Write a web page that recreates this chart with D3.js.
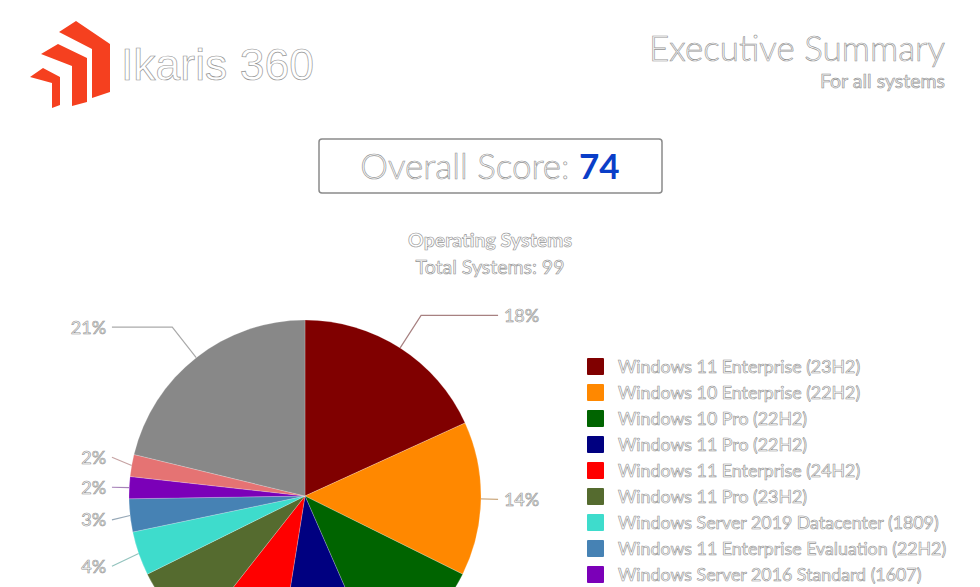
<!DOCTYPE html>
<html>
<head>
<meta charset="utf-8">
<script src="https://cdn.jsdelivr.net/npm/d3@7/dist/d3.min.js"></script>
<style>
  html, body { margin: 0; padding: 0; background: #fff; }
  svg { display: block; }
  .ol { fill: #fff; stroke: #949494; stroke-width: 0.65; }
</style>
</head>
<body>
<svg id="chart" width="980" height="587"></svg>
<script>
// ---- data ----
const categories = [
  "Windows 11 Enterprise (23H2)",
  "Windows 10 Enterprise (22H2)",
  "Windows 10 Pro (22H2)",
  "Windows 11 Pro (22H2)",
  "Windows 11 Enterprise (24H2)",
  "Windows 11 Pro (23H2)",
  "Windows Server 2019 Datacenter (1809)",
  "Windows 11 Enterprise Evaluation (22H2)",
  "Windows Server 2016 Standard (1607)",
  "Windows Server 2022 Standard (21H2)",
  "Other"
];
const counts = [18, 14, 11, 9, 8, 7, 4, 3, 2, 2, 21];
const colors = ["#800000", "#ff8800", "#006400", "#000080", "#ff0000", "#556b2f",
                "#3edccc", "#4682b4", "#7b00b8", "#e57373", "#888888"];
const titleText = "Ikaris 360";
const headerTitle = "Executive Summary";
const headerSub = "For all systems";
const scoreLabel = "Overall Score: ";
const scoreValue = 74;
const chartTitle = "Operating Systems";

const svg = d3.select("#chart");

// ---- logo ----
const logo = svg.append("g").attr("fill", "#f5401f");
const shapes = [
  [[59,32],[76,21],[110,44],[110,92],[92,98],[92,49]],
  [[41,54],[58,44],[87,58],[87,102],[72,106],[72,66]],
  [[30,77],[43,68],[60,77],[60,105],[52,108],[52,83]]
];
shapes.forEach(s => logo.append("path").attr("d", d3.line()(s) + "Z"));

svg.append("text").attr("class", "ol")
  .attr("x", 121).attr("y", 80)
  .attr("font-family", "Liberation Sans, Arial, sans-serif")
  .attr("font-size", 44.5).attr("stroke", "#7a7a7a").attr("stroke-width", 1)
  .text(titleText);

svg.append("text").attr("class", "ol")
  .attr("x", 945).attr("y", 61).attr("text-anchor", "end")
  .attr("font-family", "Lato, sans-serif").attr("font-weight", 300)
  .attr("font-size", 35).attr("stroke", "#8a8a8a").attr("stroke-width", 0.85)
  .text(headerTitle);

svg.append("text")
  .attr("x", 945).attr("y", 88).attr("text-anchor", "end")
  .attr("font-family", "Lato, sans-serif")
  .attr("font-size", 19.5).attr("fill", "#ececec").attr("stroke", "#909090").attr("stroke-width", 0.6)
  .text(headerSub);

// ---- score box ----
svg.append("rect").attr("x", 319).attr("y", 139).attr("width", 343).attr("height", 54)
  .attr("rx", 3).attr("fill", "#fff").attr("stroke", "#8a8a8a").attr("stroke-width", 1.5);
const st = svg.append("text").attr("x", 490).attr("y", 179).attr("text-anchor", "middle")
  .attr("font-family", "Lato, sans-serif").attr("font-size", 35);
st.append("tspan").attr("class", "ol").attr("stroke", "#7a7a7a").attr("stroke-width", 0.85)
  .attr("font-weight", 300).text(scoreLabel);
st.append("tspan").attr("fill", "#0a3ec8").attr("font-weight", 700).text(scoreValue);

// ---- chart title ----
const total = d3.sum(counts);
svg.append("text").attr("class", "ol")
  .attr("x", 490).attr("y", 247).attr("text-anchor", "middle")
  .attr("font-family", "Lato, sans-serif").attr("font-weight", 700).attr("font-size", 19.5)
  .attr("stroke", "#808080")
  .text(chartTitle);
svg.append("text").attr("class", "ol")
  .attr("x", 490).attr("y", 274).attr("text-anchor", "middle")
  .attr("font-family", "Lato, sans-serif").attr("font-size", 19.5)
  .text("Total Systems: " + total);

// ---- pie ----
const cx = 305, cy = 496, r = 176;
const data = categories.map((c, i) => ({ name: c, value: counts[i], color: colors[i] }));
const pie = d3.pie().value(d => d.value).sort(null);
const arcs = pie(data);
const arc = d3.arc().innerRadius(0).outerRadius(r);
const g = svg.append("g").attr("transform", `translate(${cx},${cy})`);
g.selectAll("path.slice").data(arcs).join("path")
  .attr("class", "slice")
  .attr("d", arc)
  .attr("fill", d => d.data.color)
  .attr("stroke", "#ffffff").attr("stroke-opacity", 0.35).attr("stroke-width", 0.6);

// labels
const rl = r * 1.22, textOff = r * 1.13, lineOff = r * 1.097, minGap = 30;
const labels = arcs.map(a => {
  const mid = (a.startAngle + a.endAngle) / 2;
  return {
    a, mid,
    side: Math.sin(mid) >= 0 ? 1 : -1,
    y: -Math.cos(mid) * rl,
    ex: Math.sin(mid) * r, ey: -Math.cos(mid) * r
  };
});
[1, -1].forEach(side => {
  const ls = labels.filter(l => l.side === side).sort((p, q) => p.y - q.y);
  for (let it = 0; it < 100; it++) {
    for (let i = 1; i < ls.length; i++) {
      const ov = minGap - (ls[i].y - ls[i - 1].y);
      if (ov > 0) { ls[i - 1].y -= ov / 2; ls[i].y += ov / 2; }
    }
  }
});
const fmt = d => Math.round(d.value / total * 100) + "%";
labels.filter(l => cy + l.y < 580).forEach(l => {
  const endX = l.side * lineOff;
  let elbowX = Math.sin(l.mid) * rl;
  if (Math.abs(elbowX) > Math.abs(endX)) elbowX = endX;
  const mix = d3.interpolateRgb(l.a.data.color, "#b8b8b8")(0.7);
  g.append("path")
    .attr("d", d3.line()([[l.ex, l.ey], [elbowX, l.y], [endX, l.y]]))
    .attr("fill", "none").attr("stroke", mix).attr("stroke-width", 1.2);
  g.append("text").attr("class", "ol")
    .attr("x", l.side * textOff).attr("y", l.y)
    .attr("dy", "0.35em")
    .attr("text-anchor", l.side > 0 ? "start" : "end")
    .attr("font-family", "Lato, sans-serif").attr("font-size", 18)
    .text(fmt(l.a.data));
});

// ---- legend ----
const ly = d3.scaleBand().domain(categories).range([354, 354 + 26 * categories.length]);
const leg = svg.append("g");
const li = leg.selectAll("g").data(data).join("g")
  .attr("transform", d => `translate(587,${ly(d.name)})`);
li.append("rect").attr("x", 0).attr("y", 4).attr("width", 17).attr("height", 17)
  .attr("rx", 1).attr("fill", d => d.color);
li.append("text").attr("class", "ol")
  .attr("x", 31).attr("y", 13).attr("dy", "0.35em")
  .attr("font-family", "Lato, sans-serif").attr("font-size", 17.8)
  .text(d => d.name);
</script>
</body>
</html>
